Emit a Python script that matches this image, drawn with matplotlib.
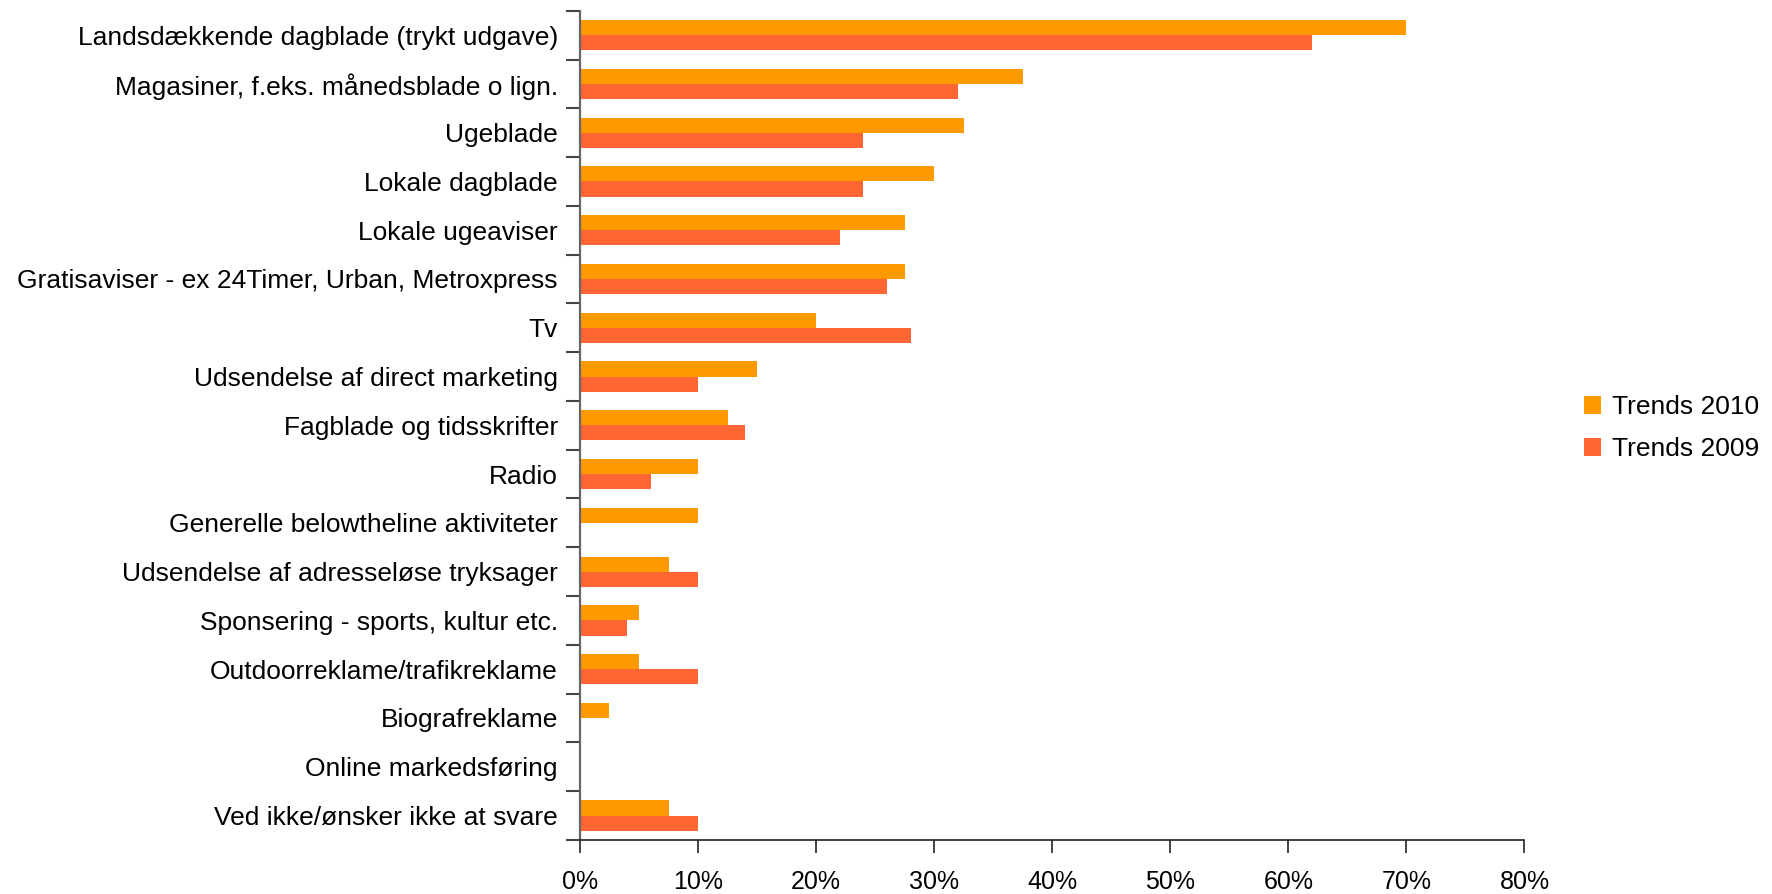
import numpy as np
import matplotlib
matplotlib.use('Agg')
import matplotlib.pyplot as plt
from matplotlib.ticker import FixedLocator, PercentFormatter

plt.rcParams['font.family'] = ['Liberation Sans', 'DejaVu Sans']

kategorier = [
    'Landsdækkende dagblade (trykt udgave)',
    'Magasiner, f.eks. månedsblade o lign.',
    'Ugeblade',
    'Lokale dagblade',
    'Lokale ugeaviser',
    'Gratisaviser - ex 24Timer, Urban, Metroxpress',
    'Tv',
    'Udsendelse af direct marketing',
    'Fagblade og tidsskrifter',
    'Radio',
    'Generelle belowtheline aktiviteter',
    'Udsendelse af adresseløse tryksager',
    'Sponsering - sports, kultur etc.',
    'Outdoorreklame/trafikreklame',
    'Biografreklame',
    'Online markedsføring',
    'Ved ikke/ønsker ikke at svare',
]
trends_2010 = [70.0, 37.5, 32.5, 30.0, 27.5, 27.5, 20.0, 15.0, 12.5, 10.0, 10.0, 7.5, 5.0, 5.0, 2.5, 0.0, 7.5]
trends_2009 = [62, 32, 24, 24, 22, 26, 28, 10, 14, 6, 0, 10, 4, 10, 0, 0, 10]
x_ticks = [0, 10, 20, 30, 40, 50, 60, 70, 80]

farve_2010 = '#FF9900'
farve_2009 = '#FF6633'

fig = plt.figure(figsize=(17.72, 8.94), dpi=100)
ax = fig.add_axes([0.3273, 0.0605, 0.5330, 0.9275])

y = np.arange(len(kategorier))
h = 0.31
ax.barh(y - h / 2, trends_2010, height=h, color=farve_2010, label='Trends 2010')
ax.barh(y + h / 2, trends_2009, height=h, color=farve_2009, label='Trends 2009')

ax.set_ylim(len(kategorier) - 0.5, -0.5)
ax.set_xlim(0, 80)

# kategorinavne centreret, streger mellem kategorierne
ax.set_yticks(y)
ax.set_yticklabels(kategorier, fontsize=19)
ax.yaxis.set_minor_locator(FixedLocator(np.arange(-0.5, len(kategorier), 1)))
ax.tick_params(axis='y', which='major', length=0, pad=16)
ax.tick_params(axis='y', which='minor', length=10, width=1.5, color='#444444')

ax.set_xticks(x_ticks)
ax.xaxis.set_major_formatter(PercentFormatter(decimals=0))
ax.tick_params(axis='x', length=9, width=1.2, pad=13, labelsize=18, color='#222222')

for side in ('top', 'right'):
    ax.spines[side].set_visible(False)
ax.spines['left'].set_color('#666666')
ax.spines['left'].set_linewidth(1.6)
ax.spines['bottom'].set_color('#222222')
ax.spines['bottom'].set_linewidth(1.2)

ax.legend(loc='center left', bbox_to_anchor=(0.894, 0.521), bbox_transform=fig.transFigure,
          frameon=False, fontsize=19, handlelength=0.65, handleheight=0.65,
          handletextpad=0.4, labelspacing=0.7, borderpad=0, borderaxespad=0)

fig.savefig('out.png', dpi=100)
